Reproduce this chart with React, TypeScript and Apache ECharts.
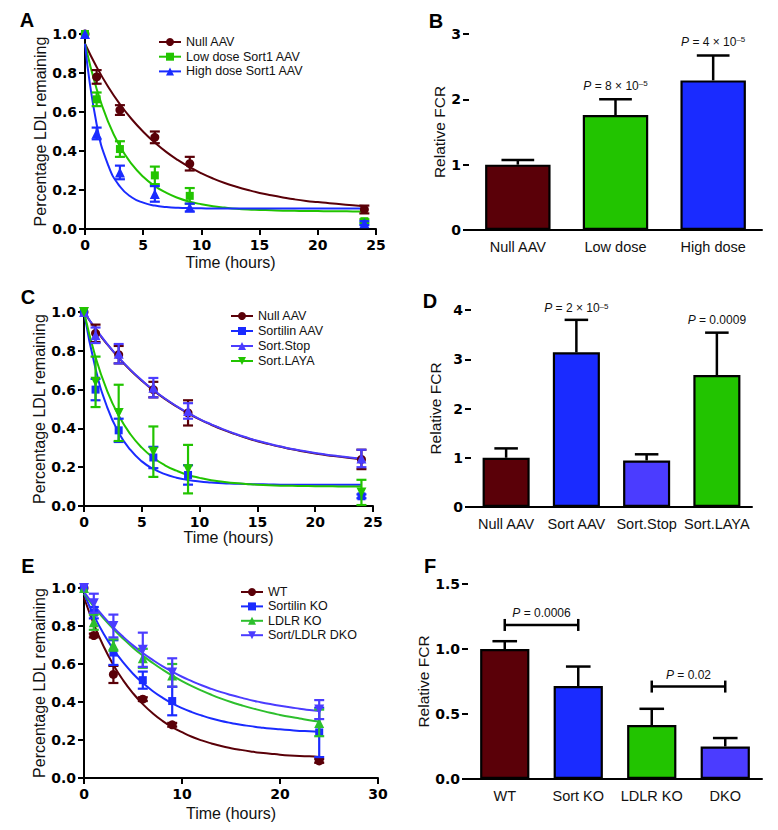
import React, { useEffect, useRef } from "react";
import * as echarts from "echarts";

const FONT = "'Liberation Sans', Arial, Helvetica, sans-serif";
const TICKFONT = "'DejaVu Sans', 'Liberation Sans', sans-serif";

const MAROON = "#5a0008";
const GREEN = "#22c400";
const BLUE = "#1a2bff";
const PURPLE = "#4b3cff";
const GREEN2 = "#2dbf2d";
const DOWN = "path://M0,0 L10,0 L5,9 Z";

// fitted-curve sample times (hours)
const fitT = [0, 1, 2, 3, 4, 5, 6, 7, 8, 9, 10, 11, 12, 13, 14, 15, 16, 17, 18, 19, 20, 21, 22, 23, 24];

// ---------- Panel A ----------
const timesA = [0, 1, 3, 6, 9, 24];
const nullA = [1.0, 0.78, 0.61, 0.47, 0.335, 0.1];
const nullAErr = [0, 0.035, 0.025, 0.03, 0.035, 0.02];
const lowA = [1.0, 0.665, 0.41, 0.275, 0.17, 0.04];
const lowAErr = [0, 0.035, 0.04, 0.045, 0.04, 0.01];
const highA = [1.0, 0.49, 0.29, 0.18, 0.11, 0.03];
const highAErr = [0, 0.03, 0.035, 0.04, 0.02, 0.01];
const fitNullA = [0.95, 0.831, 0.728, 0.64, 0.564, 0.499, 0.443, 0.394, 0.353, 0.317, 0.286, 0.259, 0.236, 0.217, 0.2, 0.185, 0.173, 0.162, 0.152, 0.144, 0.138, 0.132, 0.127, 0.122, 0.118];
const fitLowA = [0.95, 0.718, 0.548, 0.424, 0.334, 0.268, 0.22, 0.185, 0.159, 0.14, 0.127, 0.117, 0.11, 0.104, 0.1, 0.098, 0.096, 0.094, 0.093, 0.092, 0.092, 0.091, 0.091, 0.09, 0.09];
const fitHighA = [0.95, 0.537, 0.326, 0.218, 0.163, 0.135, 0.12, 0.113, 0.109, 0.107, 0.106, 0.105, 0.105, 0.105, 0.105, 0.105, 0.105, 0.105, 0.105, 0.105, 0.105, 0.105, 0.105, 0.105, 0.105];

// ---------- Panel B ----------
const catsB = ["Null AAV", "Low dose", "High dose"];
const valsB = [1.0, 1.76, 2.29];
const errB = [0.07, 0.24, 0.38];
const colorsB = [MAROON, GREEN, BLUE];
const annCatB = [1, 2];
const annYB = [2.205, 2.88];
const annTextB = ["{i|P} = 8 × 10{s|–5}", "{i|P} = 4 × 10{s|–5}"];

// ---------- Panel C ----------
const timesC = [0, 1, 3, 6, 9, 24];
const nullC = [1.0, 0.89, 0.78, 0.6, 0.48, 0.24];
const nullCErr = [0, 0.045, 0.045, 0.04, 0.065, 0.05];
const sortC = [1.0, 0.6, 0.39, 0.25, 0.16, 0.05];
const sortCErr = [0, 0.055, 0.06, 0.055, 0.05, 0.01];
const stopC = [1.0, 0.88, 0.785, 0.61, 0.49, 0.245];
const stopCErr = [0, 0.04, 0.05, 0.05, 0.04, 0.045];
const layaC = [1.0, 0.64, 0.48, 0.28, 0.19, 0.07];
const layaCErr = [0, 0.13, 0.145, 0.13, 0.125, 0.065];
const fitNullC = [1.0, 0.912, 0.834, 0.764, 0.701, 0.646, 0.596, 0.552, 0.513, 0.478, 0.446, 0.419, 0.394, 0.372, 0.352, 0.334, 0.319, 0.305, 0.292, 0.281, 0.271, 0.262, 0.255, 0.248, 0.241];
const fitStopC = [1.0, 0.914, 0.836, 0.766, 0.703, 0.648, 0.598, 0.554, 0.515, 0.48, 0.448, 0.421, 0.396, 0.374, 0.354, 0.336, 0.321, 0.307, 0.294, 0.283, 0.273, 0.264, 0.257, 0.25, 0.243];
const fitSortC = [1.0, 0.707, 0.51, 0.378, 0.29, 0.23, 0.191, 0.164, 0.146, 0.134, 0.126, 0.121, 0.117, 0.115, 0.113, 0.112, 0.111, 0.11, 0.11, 0.11, 0.11, 0.11, 0.11, 0.11, 0.11];
const fitLayaC = [1.0, 0.767, 0.594, 0.466, 0.371, 0.301, 0.249, 0.21, 0.182, 0.16, 0.145, 0.133, 0.125, 0.118, 0.114, 0.11, 0.107, 0.105, 0.104, 0.103, 0.102, 0.102, 0.101, 0.101, 0.1];

// ---------- Panel D ----------
const catsD = ["Null AAV", "Sort AAV", "Sort.Stop", "Sort.LAYA"];
const valsD = [1.0, 3.14, 0.945, 2.68];
const errD = [0.19, 0.66, 0.125, 0.86];
const colorsD = [MAROON, BLUE, PURPLE, GREEN];
const annCatD = [1, 3];
const annYD = [4.04, 3.8];
const annTextD = ["{i|P} = 2 × 10{s|–5}", "{i|P} = 0.0009"];

// ---------- Panel E ----------
const timesE = [0, 1, 3, 6, 9, 24];
const wtE = [1.0, 0.75, 0.545, 0.415, 0.28, 0.09];
const wtEErr = [0, 0.01, 0.045, 0.01, 0.01, 0.01];
const sortE = [1.0, 0.87, 0.66, 0.515, 0.405, 0.24];
const sortEErr = [0, 0.03, 0.065, 0.045, 0.075, 0.13];
const ldlrE = [1.0, 0.82, 0.7, 0.63, 0.54, 0.29];
const ldlrEErr = [0, 0.04, 0.03, 0.05, 0.06, 0.07];
const dkoE = [1.0, 0.92, 0.8, 0.675, 0.555, 0.36];
const dkoEErr = [0, 0.05, 0.06, 0.09, 0.075, 0.05];
const fitWtE = [0.95, 0.81, 0.693, 0.595, 0.514, 0.446, 0.389, 0.341, 0.301, 0.268, 0.241, 0.217, 0.198, 0.182, 0.168, 0.157, 0.148, 0.14, 0.133, 0.128, 0.123, 0.119, 0.116, 0.114, 0.111];
const fitSortE = [0.97, 0.856, 0.759, 0.677, 0.608, 0.549, 0.5, 0.458, 0.423, 0.393, 0.368, 0.347, 0.329, 0.313, 0.3, 0.29, 0.28, 0.273, 0.266, 0.26, 0.256, 0.252, 0.248, 0.246, 0.243];
const fitLdlrE = [0.97, 0.902, 0.84, 0.784, 0.733, 0.686, 0.644, 0.606, 0.571, 0.539, 0.51, 0.484, 0.46, 0.438, 0.418, 0.4, 0.384, 0.369, 0.356, 0.343, 0.332, 0.322, 0.313, 0.304, 0.297];
const fitDkoE = [0.98, 0.911, 0.849, 0.793, 0.743, 0.698, 0.658, 0.622, 0.589, 0.56, 0.533, 0.51, 0.488, 0.469, 0.452, 0.437, 0.423, 0.41, 0.399, 0.389, 0.38, 0.372, 0.365, 0.358, 0.352];

// ---------- Panel F ----------
const catsF = ["WT", "Sort KO", "LDLR KO", "DKO"];
const valsF = [1.0, 0.715, 0.415, 0.25];
const errF = [0.06, 0.15, 0.125, 0.065];
const colorsF = [MAROON, BLUE, GREEN, PURPLE];
const brFrom = [0, 2];
const brTo = [1, 3];
const brY = [1.185, 0.711];
const brText = ["{i|P} = 0.0006", "{i|P} = 0.02"];

// ---------- helpers ----------
const pairs = (xs: number[], ys: number[]) => xs.map((x, i) => [x, ys[i]]);
const errData = (xs: number[], ys: number[], es: number[]) =>
  xs.map((x, i) => [x, ys[i] - es[i], ys[i] + es[i]]).filter((_, i) => es[i] > 0);

const RICH = {
  i: { fontStyle: "italic", fontSize: 12, fontFamily: FONT, fill: "#111" },
  s: { fontSize: 8, fontFamily: FONT, verticalAlign: "top", fill: "#111" },
};

const errRender = (color: string, half: number, lw: number) => (params: any, api: any) => {
  const x = api.value(0);
  const a = api.coord([x, api.value(1)]);
  const b = api.coord([x, api.value(2)]);
  const st = { stroke: color, lineWidth: lw };
  return {
    type: "group",
    children: [
      { type: "line", shape: { x1: a[0], y1: a[1], x2: b[0], y2: b[1] }, style: st },
      { type: "line", shape: { x1: a[0] - half, y1: a[1], x2: a[0] + half, y2: a[1] }, style: st },
      { type: "line", shape: { x1: b[0] - half, y1: b[1], x2: b[0] + half, y2: b[1] }, style: st },
    ],
  };
};

const barErrRender = (params: any, api: any) => {
  const x = api.value(0);
  const a = api.coord([x, api.value(1)]);
  const b = api.coord([x, api.value(2)]);
  const half = (api.size([1, 0])[0] * 0.67) / 4;
  const st = { stroke: "#000", lineWidth: 2.5 };
  return {
    type: "group",
    children: [
      { type: "line", shape: { x1: a[0], y1: a[1], x2: b[0], y2: b[1] }, style: st },
      { type: "line", shape: { x1: b[0] - half, y1: b[1], x2: b[0] + half, y2: b[1] }, style: st },
    ],
  };
};

const annRender = (texts: string[]) => (params: any, api: any) => {
  const p = api.coord([api.value(0), api.value(1)]);
  return {
    type: "text",
    x: p[0],
    y: p[1],
    style: {
      text: texts[params.dataIndex],
      align: "center",
      verticalAlign: "middle",
      fill: "#111",
      fontSize: 12,
      fontFamily: FONT,
      rich: RICH,
    },
  };
};

const bracketRender = (params: any, api: any) => {
  const y = api.value(2);
  const a = api.coord([api.value(0), y]);
  const b = api.coord([api.value(1), y]);
  const st = { stroke: "#000", lineWidth: 2.5 };
  return {
    type: "group",
    children: [
      { type: "line", shape: { x1: a[0], y1: a[1], x2: b[0], y2: b[1] }, style: st },
      { type: "line", shape: { x1: a[0], y1: a[1] - 6, x2: a[0], y2: a[1] + 6 }, style: st },
      { type: "line", shape: { x1: b[0], y1: b[1] - 6, x2: b[0], y2: b[1] + 6 }, style: st },
      {
        type: "text",
        x: (a[0] + b[0]) / 2,
        y: a[1] - 12,
        style: {
          text: brText[params.dataIndex],
          align: "center",
          verticalAlign: "middle",
          fill: "#111",
          fontSize: 12,
          fontFamily: FONT,
          rich: RICH,
        },
      },
    ],
  };
};

type Group = {
  name: string;
  color: string;
  symbol: string;
  size: number;
  times: number[];
  pts: number[];
  err: number[];
  fit: number[];
};

const lineSeries = (gi: number, groups: Group[]) => {
  const out: any[] = [];
  groups.forEach((g) => {
    out.push({
      type: "line",
      name: g.name,
      xAxisIndex: gi,
      yAxisIndex: gi,
      data: pairs(fitT, g.fit),
      smooth: 0.5,
      showSymbol: false,
      symbol: g.symbol,
      symbolSize: g.size,
      color: g.color,
      lineStyle: { color: g.color, width: 2 },
      itemStyle: { color: g.color },
      silent: true,
      z: 2,
    });
  });
  groups.forEach((g, k) => {
    out.push({
      type: "custom",
      name: g.name + " error",
      xAxisIndex: gi,
      yAxisIndex: gi,
      coordinateSystem: "cartesian2d",
      renderItem: errRender(g.color, 5, 2.2),
      data: errData(g.times, g.pts, g.err),
      encode: { x: 0, y: [1, 2] },
      silent: true,
      z: 3 + k,
    });
    out.push({
      type: "scatter",
      name: g.name + " points",
      xAxisIndex: gi,
      yAxisIndex: gi,
      data: pairs(g.times, g.pts),
      symbol: g.symbol,
      symbolSize: g.size,
      itemStyle: { color: g.color, opacity: 1 },
      silent: true,
      z: 3 + k,
    });
  });
  return out;
};

const barSeries = (gi: number, vals: number[], errs: number[], colors: string[]) => [
  {
    type: "bar",
    name: "bars" + gi,
    xAxisIndex: gi,
    yAxisIndex: gi,
    barWidth: "67%",
    data: vals.map((v, i) => ({ value: v, itemStyle: { color: colors[i], borderColor: "#000", borderWidth: 2.2 } })),
    silent: true,
    z: 3,
  },
  {
    type: "custom",
    name: "barerr" + gi,
    xAxisIndex: gi,
    yAxisIndex: gi,
    coordinateSystem: "cartesian2d",
    renderItem: barErrRender,
    data: vals.map((v, i) => [i, v, v + errs[i]]),
    encode: { x: 0, y: [1, 2] },
    silent: true,
    z: 2,
  },
];

const axisLine = { onZero: false, lineStyle: { color: "#000", width: 2 } };
const axisTick = { show: true, length: 6, lineStyle: { color: "#000", width: 2 } };
const tickLabel = { fontFamily: TICKFONT, fontWeight: "bold", fontSize: 14, color: "#000" };

const timeAxis = (gi: number, max: number, interval: number, gap: number) => ({
  type: "value",
  gridIndex: gi,
  min: 0,
  max,
  interval,
  name: "Time (hours)",
  nameLocation: "middle",
  nameGap: gap,
  nameTextStyle: { fontSize: 16, fontFamily: FONT, color: "#111" },
  axisLine,
  axisTick,
  axisLabel: { ...tickLabel, margin: 9 },
  splitLine: { show: false },
});

const pctAxis = (gi: number, gap: number) => ({
  type: "value",
  gridIndex: gi,
  min: 0,
  max: 1,
  interval: 0.2,
  name: "Percentage LDL remaining",
  nameLocation: "middle",
  nameGap: gap,
  nameTextStyle: { fontSize: 16, fontFamily: FONT, color: "#111" },
  axisLine,
  axisTick,
  axisLabel: { ...tickLabel, margin: 8, formatter: (v: number) => v.toFixed(1) },
  splitLine: { show: false },
});

const catAxis = (gi: number, cats: string[]) => ({
  type: "category",
  gridIndex: gi,
  data: cats,
  axisLine,
  axisTick: { show: false },
  axisLabel: { fontFamily: FONT, fontSize: 14.5, color: "#111", margin: 9, interval: 0 },
  splitLine: { show: false },
});

const fcrAxis = (gi: number, max: number, interval: number, gap: number, dec: number) => ({
  type: "value",
  gridIndex: gi,
  min: 0,
  max,
  interval,
  name: "Relative FCR",
  nameLocation: "middle",
  nameGap: gap,
  nameTextStyle: { fontSize: 15.5, fontFamily: FONT, color: "#111" },
  axisLine,
  axisTick,
  axisLabel: { ...tickLabel, margin: 8, formatter: (v: number) => v.toFixed(dec) },
  splitLine: { show: false },
});

const legend = (names: string[], left: number, top: number, gap: number) => ({
  data: names,
  orient: "vertical",
  left,
  top,
  padding: 0,
  itemWidth: 22,
  itemHeight: 10,
  itemGap: gap,
  selectedMode: false,
  textStyle: { fontSize: 12.5, fontFamily: FONT, color: "#111", lineHeight: 14 },
});

const panelLetter = (t: string, x: number, y: number) => ({
  type: "text",
  x,
  y,
  style: {
    text: t,
    fontSize: 20,
    fontWeight: "bold",
    fontFamily: FONT,
    fill: "#000",
    align: "center",
    verticalAlign: "middle",
  },
});

const groupsA: Group[] = [
  { name: "Null AAV", color: MAROON, symbol: "circle", size: 9, times: timesA, pts: nullA, err: nullAErr, fit: fitNullA },
  { name: "Low dose Sort1 AAV", color: GREEN, symbol: "rect", size: 8, times: timesA, pts: lowA, err: lowAErr, fit: fitLowA },
  { name: "High dose Sort1 AAV", color: BLUE, symbol: "triangle", size: 10, times: timesA, pts: highA, err: highAErr, fit: fitHighA },
];
const groupsC: Group[] = [
  { name: "Null AAV", color: MAROON, symbol: "circle", size: 9, times: timesC, pts: nullC, err: nullCErr, fit: fitNullC },
  { name: "Sortilin AAV", color: BLUE, symbol: "rect", size: 8, times: timesC, pts: sortC, err: sortCErr, fit: fitSortC },
  { name: "Sort.Stop", color: PURPLE, symbol: "triangle", size: 10, times: timesC, pts: stopC, err: stopCErr, fit: fitStopC },
  { name: "Sort.LAYA", color: GREEN, symbol: DOWN, size: 10, times: timesC, pts: layaC, err: layaCErr, fit: fitLayaC },
];
const groupsE: Group[] = [
  { name: "WT", color: MAROON, symbol: "circle", size: 9, times: timesE, pts: wtE, err: wtEErr, fit: fitWtE },
  { name: "Sortilin KO", color: BLUE, symbol: "rect", size: 8, times: timesE, pts: sortE, err: sortEErr, fit: fitSortE },
  { name: "LDLR KO", color: GREEN2, symbol: "triangle", size: 10, times: timesE, pts: ldlrE, err: ldlrEErr, fit: fitLdlrE },
  { name: "Sort/LDLR DKO", color: PURPLE, symbol: DOWN, size: 10, times: timesE, pts: dkoE, err: dkoEErr, fit: fitDkoE },
];

const option: any = {
  animation: false,
  backgroundColor: "#fff",
  grid: [
    { left: 85, top: 34, width: 291, height: 195 },
    { left: 469, top: 34, width: 293, height: 196 },
    { left: 84, top: 312, width: 289, height: 194 },
    { left: 471, top: 310, width: 281, height: 197 },
    { left: 84, top: 588, width: 294, height: 190 },
    { left: 468, top: 584, width: 294, height: 195 },
  ],
  xAxis: [
    timeAxis(0, 25, 5, 25),
    catAxis(1, catsB),
    timeAxis(2, 25, 5, 23),
    catAxis(3, catsD),
    timeAxis(4, 30, 10, 27),
    catAxis(5, catsF),
  ],
  yAxis: [
    pctAxis(0, 30),
    fcrAxis(1, 3, 1, 21.5, 0),
    pctAxis(2, 29),
    fcrAxis(3, 4, 1, 28, 0),
    pctAxis(4, 31),
    fcrAxis(5, 1.5, 0.5, 30, 1),
  ],
  legend: [
    legend(groupsA.map((g) => g.name), 158, 35, 0.7),
    legend(groupsC.map((g) => g.name), 230, 309, 1),
    legend(groupsE.map((g) => g.name), 240, 585, 0.4),
  ],
  graphic: [
    panelLetter("A", 27, 20),
    panelLetter("B", 436, 21),
    panelLetter("C", 28, 297),
    panelLetter("D", 430, 301),
    panelLetter("E", 28, 566),
    panelLetter("F", 430, 566),
  ],
  series: [
    ...lineSeries(0, groupsA),
    ...barSeries(1, valsB, errB, colorsB),
    {
      type: "custom",
      name: "annB",
      xAxisIndex: 1,
      yAxisIndex: 1,
      coordinateSystem: "cartesian2d",
      renderItem: annRender(annTextB),
      data: annCatB.map((c, i) => [c, annYB[i]]),
      encode: { x: 0, y: 1 },
      silent: true,
      z: 5,
    },
    ...lineSeries(2, groupsC),
    ...barSeries(3, valsD, errD, colorsD),
    {
      type: "custom",
      name: "annD",
      xAxisIndex: 3,
      yAxisIndex: 3,
      coordinateSystem: "cartesian2d",
      renderItem: annRender(annTextD),
      data: annCatD.map((c, i) => [c, annYD[i]]),
      encode: { x: 0, y: 1 },
      silent: true,
      z: 5,
    },
    ...lineSeries(4, groupsE),
    ...barSeries(5, valsF, errF, colorsF),
    {
      type: "custom",
      name: "bracketF",
      xAxisIndex: 5,
      yAxisIndex: 5,
      coordinateSystem: "cartesian2d",
      renderItem: bracketRender,
      data: brFrom.map((a, i) => [a, brTo[i], brY[i]]),
      encode: { x: 0, y: 2 },
      silent: true,
      z: 5,
    },
  ],
};

export default function App() {
  const ref = useRef<HTMLDivElement>(null);
  useEffect(() => {
    if (!ref.current) return;
    const chart = echarts.init(ref.current, null, { renderer: "svg" });
    chart.setOption(option);
    return () => chart.dispose();
  }, []);
  return (
    <div
      ref={ref}
      style={{ position: "absolute", left: 0, top: 0, width: 778, height: 830, background: "#fff" }}
    />
  );
}
